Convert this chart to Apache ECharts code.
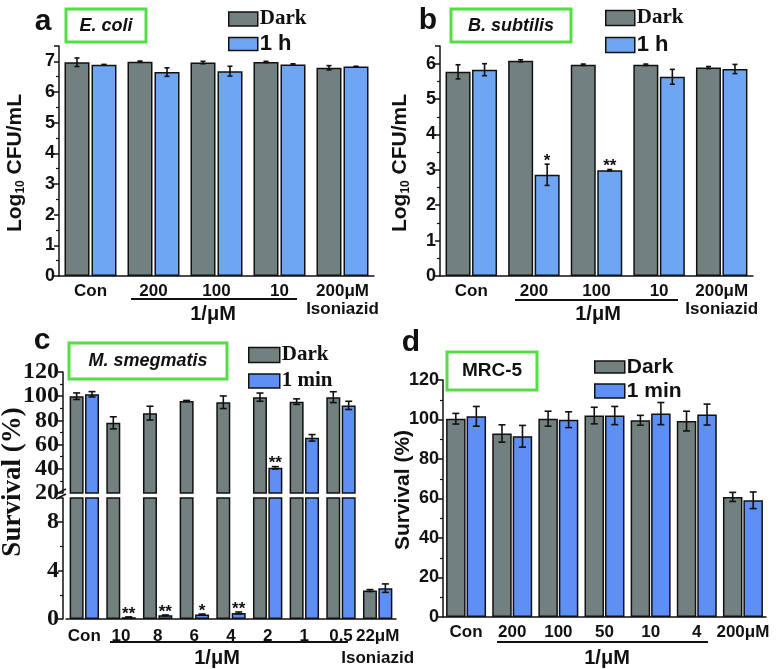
<!DOCTYPE html>
<html>
<head>
<meta charset="utf-8">
<script src="https://cdn.jsdelivr.net/npm/echarts@6/dist/echarts.min.js"></script>
<style>
html, body { margin: 0; padding: 0; background: #fff; }
#chart { width: 779px; height: 669px; }
</style>
</head>
<body>
<div id="chart"></div>
<script>
// panel a - E. coli
var catsA = ['Con', '200', '100', '10', '200μM\nIsoniazid'];
var darkA = [6.97, 6.99, 6.96, 6.98, 6.79];
var darkErrA = [0.14, 0.02, 0.04, 0.02, 0.07];
var lightA = [6.89, 6.65, 6.68, 6.90, 6.83];
var lightErrA = [0.01, 0.14, 0.16, 0.02, 0.01];
var starsA = ['', '', '', '', ''];

// panel b - B. subtilis
var catsB = ['Con', '200', '100', '10', '200μM\nIsoniazid'];
var darkB = [5.77, 6.08, 5.97, 5.97, 5.89];
var darkErrB = [0.20, 0.03, 0.02, 0.02, 0.03];
var lightB = [5.83, 2.86, 2.99, 5.63, 5.85];
var lightErrB = [0.17, 0.30, 0.02, 0.21, 0.13];
var starsB = ['', '*', '**', '', ''];

// panel c - M. smegmatis (broken axis)
var catsC = ['Con', '10', '8', '6', '4', '2', '1', '0.5', '22μM\nIsoniazid'];
var darkC = [100, 78, 86, 96, 95, 99.2, 95.5, 99.2, 2.35];
var darkErrC = [2.7, 5, 5.7, 0.5, 5.2, 3.4, 2.3, 4.5, 0.08];
var lightC = [101.6, 0.15, 0.3, 0.37, 0.5, 40.8, 65.6, 92.4, 2.55];
var lightErrC = [2.2, 0.02, 0.03, 0.04, 0.08, 1, 2.7, 3.4, 0.35];
var starsC = ['', '**', '**', '*', '**', '**', '', '', ''];

// panel d - MRC-5
var catsD = ['Con', '200', '100', '50', '10', '4', '200μM'];
var darkD = [100.4, 92.9, 100.4, 102, 99.6, 99.2, 60.8];
var darkErrD = [2.7, 4.4, 3.8, 4.2, 2.5, 5, 2.3];
var lightD = [101.6, 91.5, 99.9, 102, 103, 102.5, 59.1];
var lightErrD = [5, 5.5, 4, 4.6, 5.6, 5.3, 4.2];

var noStars = [];

var grey = '#738080';
var blueAB = '#6fa6f4';
var blueCD = '#5e8ff4';
var green = '#55dd44';
var ink = '#111';
var sans = 'Liberation Sans, Arial, sans-serif';
var serif = 'Liberation Serif, Times New Roman, serif';

var chart = echarts.init(document.getElementById('chart'));

function bars(name, xi, yi, data, color, w, gap) {
  return {
    name: name, type: 'bar', xAxisIndex: xi, yAxisIndex: yi,
    data: data, barWidth: w, barGap: gap, clip: true,
    itemStyle: { color: color, borderColor: ink, borderWidth: 1.5 },
    emphasis: { disabled: true }
  };
}

// error bars and significance stars
function errs(xi, yi, vals, errArr, stars, side, w, gapPx, lo, hi, cap) {
  return {
    type: 'custom', xAxisIndex: xi, yAxisIndex: yi, z: 5, silent: true,
    data: vals.map(function (v, i) { return [i, v, errArr[i]]; }),
    renderItem: function (params, api) {
      var i = api.value(0), v = api.value(1), e = api.value(2);
      if (v < lo || v > hi) return null;
      var c = api.coord([i, v]);
      var x = c[0] + side * (w + gapPx) / 2;
      var t = api.coord([i, v + e])[1];
      var b = api.coord([i, v - e])[1];
      var ls = { stroke: ink, lineWidth: 1.6 };
      var kids = [
        { type: 'line', shape: { x1: x, y1: t, x2: x, y2: b }, style: ls },
        { type: 'line', shape: { x1: x - cap, y1: t, x2: x + cap, y2: t }, style: ls },
        { type: 'line', shape: { x1: x - cap, y1: b, x2: x + cap, y2: b }, style: ls }
      ];
      var s = stars[params.dataIndex];
      if (s) {
        kids.push({ type: 'text', x: x, y: t - 3, style: {
          text: s, fill: ink, font: 'bold 17px ' + sans, align: 'center', verticalAlign: 'middle' } });
      }
      return { type: 'group', children: kids };
    }
  };
}

function yAx(gi, min, max, interval, font, size, fmt, offset) {
  return {
    type: 'value', gridIndex: gi, min: min, max: max, interval: interval, offset: offset || 0,
    splitLine: { show: false },
    axisLine: { show: true, lineStyle: { color: ink, width: 1.5 } },
    axisTick: { show: true, length: 5, lineStyle: { color: ink, width: 1.5 } },
    minorTick: { show: true, splitNumber: 2, length: 3, lineStyle: { color: ink, width: 1.2 } },
    axisLabel: { color: ink, fontFamily: font, fontWeight: 'bold', fontSize: size, margin: 4, formatter: fmt }
  };
}

function xAx(gi, cats, lh, show) {
  return {
    type: 'category', gridIndex: gi, data: cats, show: show !== false,
    axisLine: { lineStyle: { color: ink, width: 1.5 } },
    axisTick: { show: false },
    axisLabel: { color: ink, fontFamily: sans, fontWeight: 'bold', fontSize: 17, margin: 6,
                 lineHeight: lh, interval: 0 }
  };
}

function legendItem(name, left, cy, w, h, font, size) {
  return {
    left: left, top: cy - 11, orient: 'vertical', itemWidth: w, itemHeight: h, selectedMode: false,
    itemStyle: { borderColor: ink, borderWidth: 1.5 },
    data: [{ name: name, icon: 'rect' }],
    textStyle: { color: ink, fontFamily: font, fontWeight: 'bold', fontSize: size, lineHeight: 22, padding: [0, 0, 0, -3] }
  };
}

function txt(x, y, s, font, extra) {
  var st = { text: s, font: font, fill: ink, align: 'center', verticalAlign: 'middle' };
  if (extra) for (var k in extra) st[k] = extra[k];
  return { type: 'text', x: x, y: y, style: st, z: 20 };
}
function box(x, y, w, h) {
  return { type: 'rect', shape: { x: x, y: y, width: w, height: h },
           style: { fill: '#fff', stroke: green, lineWidth: 3 }, z: 15 };
}
function hline(x1, x2, y, wd) {
  return { type: 'line', shape: { x1: x1, y1: y, x2: x2, y2: y },
           style: { stroke: ink, lineWidth: wd || 2 }, z: 15 };
}

var intFmt = function (v) { return v % 1 === 0 ? String(v) : ''; };
var lowFmt = function (v) { return (v % 4 === 0 && v < 10) ? String(v) : ''; };

var option = {
  animation: false,
  backgroundColor: '#fff',
  grid: [
    { left: 59, top: 46, width: 315, height: 230 },     // a
    { left: 440, top: 46, width: 313, height: 230 },    // b
    { left: 66, top: 372, width: 330, height: 121 },    // c upper
    { left: 66, top: 498, width: 330, height: 122.5 },  // c lower
    { left: 443, top: 380, width: 323, height: 237 }    // d
  ],
  xAxis: [
    xAx(0, catsA, 18),
    xAx(1, catsB, 18),
    xAx(2, catsC, 22, false),
    xAx(3, catsC, 22),
    xAx(4, catsD, 18)
  ],
  yAxis: [
    yAx(0, 0, 7.5, 1, sans, 18, intFmt),
    yAx(1, 0, 6.5, 1, sans, 18, intFmt),
    yAx(2, 20, 120, 20, serif, 24, function (v) { return String(v); }, 3),
    yAx(3, 0, 10, 4, serif, 24, lowFmt, 3),
    yAx(4, 0, 120, 20, sans, 18, function (v) { return String(v); })
  ],
  legend: [
    legendItem('Dark', 223, 14, 29, 14, serif, 21),
    legendItem('1 h', 223, 39, 29, 13, sans, 22),
    legendItem('Dark', 600, 13, 29, 15, serif, 21),
    legendItem('1 h', 600, 40, 29, 15, sans, 22),
    legendItem('Dark', 243, 350, 31, 15, serif, 21),
    legendItem('1 min', 243, 376, 31, 14, serif, 21),
    legendItem('Dark', 589, 362, 30, 12, sans, 21),
    legendItem('1 min', 589, 386, 30, 14, sans, 21)
  ],
  series: [
    bars('Dark', 0, 0, darkA, grey, 25, '8%'),
    bars('1 h', 0, 0, lightA, blueAB, 25, '8%'),
    errs(0, 0, darkA, darkErrA, noStars, -1, 25, 2, 0, 7.5, 2.5),
    errs(0, 0, lightA, lightErrA, starsA, 1, 25, 2, 0, 7.5, 2.5),

    bars('Dark', 1, 1, darkB, grey, 25, '6%'),
    bars('1 h', 1, 1, lightB, blueAB, 25, '6%'),
    errs(1, 1, darkB, darkErrB, noStars, -1, 25, 1.5, 0, 6.5, 2.5),
    errs(1, 1, lightB, lightErrB, starsB, 1, 25, 1.5, 0, 6.5, 2.5),

    bars('Dark', 2, 2, darkC, grey, 14, '10%'),
    bars('1 min', 2, 2, lightC, blueCD, 14, '10%'),
    errs(2, 2, darkC, darkErrC, noStars, -1, 14, 1.4, 20, 120, 3.5),
    errs(2, 2, lightC, lightErrC, starsC, 1, 14, 1.4, 20, 120, 3.5),
    bars('Dark', 3, 3, darkC, grey, 14, '10%'),
    bars('1 min', 3, 3, lightC, blueCD, 14, '10%'),
    errs(3, 3, darkC, darkErrC, noStars, -1, 14, 1.4, 0, 10, 3.5),
    errs(3, 3, lightC, lightErrC, starsC, 1, 14, 1.4, 0, 10, 3.5),

    bars('Dark', 4, 4, darkD, grey, 19.5, '5%'),
    bars('1 min', 4, 4, lightD, blueCD, 19.5, '5%'),
    errs(4, 4, darkD, darkErrD, noStars, -1, 19.5, 1, 0, 120, 3.5),
    errs(4, 4, lightD, lightErrD, noStars, 1, 19.5, 1, 0, 120, 3.5)
  ],
  graphic: [
    // panel letters
    txt(43, 22, 'a', 'bold 30px ' + sans),
    txt(428, 21, 'b', 'bold 30px ' + sans),
    txt(42, 341, 'c', 'bold 30px ' + sans),
    txt(411, 343, 'd', 'bold 30px ' + sans),
    // organism boxes
    box(66, 9, 80, 33), txt(106, 26, 'E. coli', 'italic bold 18px ' + sans),
    box(451, 9, 120, 33), txt(511, 26, 'B. subtilis', 'italic bold 18px ' + sans),
    box(69, 343, 158, 36), txt(148, 361, 'M. smegmatis', 'italic bold 18px ' + sans),
    box(447, 352, 90, 38), txt(492, 371, 'MRC-5', 'bold 19px ' + sans),
    // concentration brackets
    hline(131, 297, 299), txt(213, 314, '1/μM', 'bold 20px ' + sans),
    hline(515, 678, 300), txt(598, 314, '1/μM', 'bold 20px ' + sans),
    hline(110, 348, 642), txt(217, 658, '1/μM', 'bold 20px ' + sans),
    hline(497, 708, 642), txt(607, 658, '1/μM', 'bold 20px ' + sans),
    // y axis titles
    { type: 'text', x: 15, y: 163, rotation: Math.PI / 2, z: 20,
      style: { text: '{n|Log}{s|10}{n| CFU/mL}', align: 'center', verticalAlign: 'middle',
        rich: { n: { font: 'bold 21px ' + sans, fill: ink, lineHeight: 24 },
                s: { font: 'bold 12px ' + sans, fill: ink, lineHeight: 24, verticalAlign: 'bottom' } } } },
    { type: 'text', x: 400, y: 163, rotation: Math.PI / 2, z: 20,
      style: { text: '{n|Log}{s|10}{n| CFU/mL}', align: 'center', verticalAlign: 'middle',
        rich: { n: { font: 'bold 21px ' + sans, fill: ink, lineHeight: 24 },
                s: { font: 'bold 12px ' + sans, fill: ink, lineHeight: 24, verticalAlign: 'bottom' } } } },
    { type: 'text', x: 13, y: 482, rotation: Math.PI / 2, z: 20,
      style: { text: 'Survival (%)', font: 'bold 27px ' + serif, fill: ink, align: 'center', verticalAlign: 'middle' } },
    { type: 'text', x: 403, y: 490, rotation: Math.PI / 2, z: 20,
      style: { text: 'Survival (%)', font: 'bold 21px ' + sans, fill: ink, align: 'center', verticalAlign: 'middle' } },
    // axis break marks in panel c
    { type: 'line', shape: { x1: 56, y1: 494, x2: 66, y2: 489 }, style: { stroke: ink, lineWidth: 1.5 }, z: 20 },
    { type: 'line', shape: { x1: 56, y1: 499, x2: 66, y2: 494 }, style: { stroke: ink, lineWidth: 1.5 }, z: 20 }
  ]
};

chart.setOption(option);
</script>
</body>
</html>
